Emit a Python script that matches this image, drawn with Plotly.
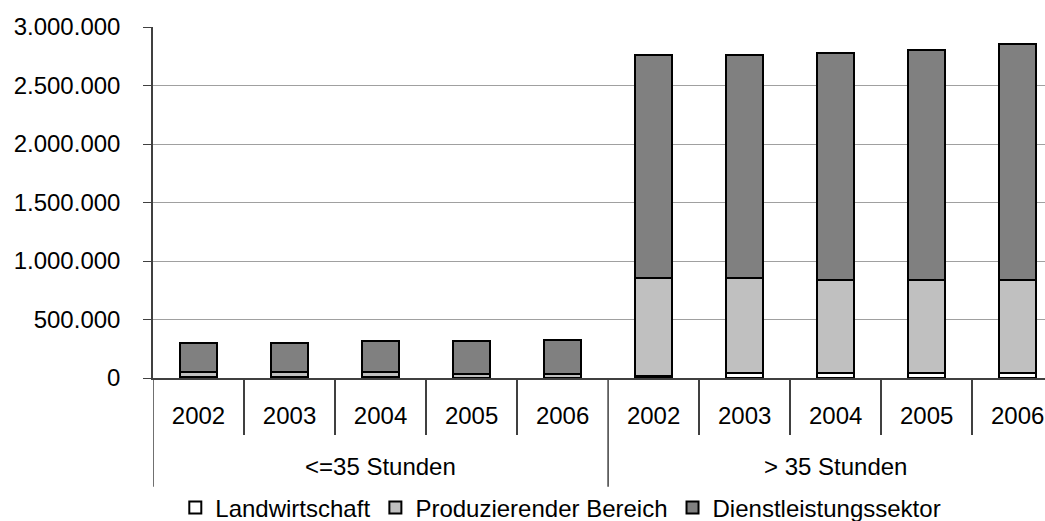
import plotly.graph_objects as go

group_names = ["<=35 Stunden", "> 35 Stunden"]
years = ["2002", "2003", "2004", "2005", "2006"]

landwirtschaft = [5000, 5000, 5000, 4000, 4000, 15000, 40000, 40000, 40000, 40000]
produzierend = [46000, 46000, 46000, 28000, 28000, 841000, 816000, 799000, 799000, 799000]
dienstleistung = [249000, 246000, 263000, 282000, 297000, 1909000, 1909000, 1943000, 1961000, 2012000]

series_names = ["Landwirtschaft", "Produzierender Bereich", "Dienstleistungssektor"]
series_values = [landwirtschaft, produzierend, dienstleistung]
series_colors = ["#ffffff", "#c0c0c0", "#808080"]

y_ticks = [0, 500000, 1000000, 1500000, 2000000, 2500000, 3000000]

# category positions (index along the axis)
n_years = len(years)
x_pos = list(range(len(group_names) * n_years))
x_text = years * len(group_names)

FONT = "Liberation Sans, Arial, sans-serif"
AXIS_COL = "#404040"

fig = go.Figure()
for name, vals, col in zip(series_names, series_values, series_colors):
    fig.add_trace(go.Bar(
        x=x_pos, y=vals, name=name,
        marker=dict(color=col, line=dict(color="#000000", width=2)),
    ))

# boundaries between years (minor ticks) and between groups (long dividers)
year_bounds = [i + 0.5 for i in x_pos[:-1] if (i + 1) % n_years != 0]
group_bounds = [g * n_years - 0.5 for g in range(len(group_names))]

for xb in group_bounds:
    fig.add_shape(type="line", xref="x", yref="paper", x0=xb, x1=xb, y0=0, y1=-0.31,
                  line=dict(color=AXIS_COL, width=1.5))

for g, gname in enumerate(group_names):
    center = sum(x_pos[g * n_years:(g + 1) * n_years]) / n_years
    fig.add_annotation(x=center, xref="x", y=-0.251, yref="paper", text=gname,
                       showarrow=False, yanchor="middle", xanchor="center",
                       font=dict(family=FONT, size=24, color="#000000"))

fig.update_layout(
    width=1045, height=521,
    barmode="stack", bargap=0.6,
    separators=",.",
    plot_bgcolor="white", paper_bgcolor="white",
    margin=dict(l=153, r=0, t=27, b=143, autoexpand=False),
    font=dict(family=FONT, size=24, color="#000000"),
    showlegend=True,
    legend=dict(orientation="h", x=0.025, xanchor="left", y=-0.37, yanchor="middle",
                font=dict(size=24), traceorder="normal", itemwidth=30,
                bgcolor="rgba(0,0,0,0)"),
)
fig.update_yaxes(
    range=[0, 3000000], tickvals=y_ticks, tickformat=",d",
    showgrid=True, gridcolor="#a0a0a0", gridwidth=1,
    showline=True, linecolor=AXIS_COL, linewidth=1.5,
    ticks="outside", ticklen=8, tickcolor=AXIS_COL,
    tickfont=dict(size=24), ticklabelstandoff=18, zeroline=False,
    automargin=False,
)
fig.update_xaxes(
    type="linear", range=[-0.5, 9.30],
    tickvals=x_pos, ticktext=x_text, ticks="",
    showline=True, linecolor=AXIS_COL, linewidth=1.5,
    showgrid=False, zeroline=False,
    tickfont=dict(size=24), ticklabelstandoff=15,
    minor=dict(tickvals=year_bounds, ticks="outside", ticklen=55,
               tickcolor=AXIS_COL, tickwidth=1.5, showgrid=False),
    automargin=False,
)

fig.write_html("out.html",
               config={"displayModeBar": False},
               post_script="document.body.style.margin='0';document.body.style.padding='0';")
